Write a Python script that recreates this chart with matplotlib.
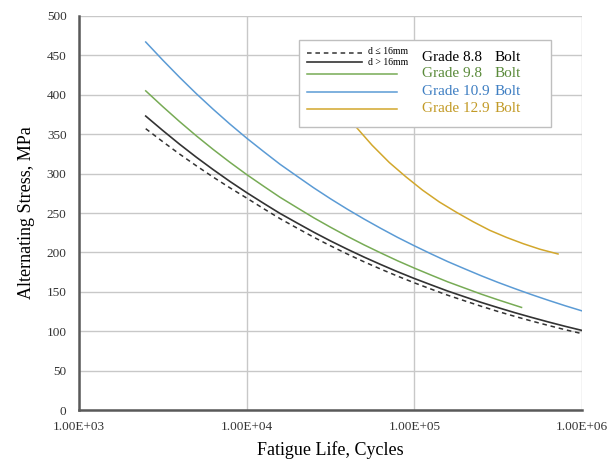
import matplotlib.pyplot as plt
from matplotlib.patches import Rectangle
from matplotlib.ticker import FixedLocator, FuncFormatter, NullLocator

plt.rcParams['font.family'] = ['Liberation Serif', 'DejaVu Serif']

# (cycles, MPa)
N_full = [2500, 3160, 3980, 5010, 6310, 7940, 10000, 12600, 15800, 20000,
          25100, 31600, 39800, 50100, 63100, 79400, 100000, 126000, 158000,
          200000, 251000, 316000, 398000, 501000, 631000, 794000, 1000000]
s88_le16 = [357, 340.5, 324.8, 309.9, 295.6, 282.0, 269.0, 255.6, 242.9, 230.8,
            219.3, 208.4, 198.0, 188.1, 178.8, 169.9, 161.4, 153.4, 145.7,
            138.5, 131.6, 125.0, 118.8, 112.9, 107.3, 101.9, 96.9]
s88_gt16 = [373, 354.7, 337.3, 320.8, 305.1, 290.1, 275.9, 262.4, 249.5, 237.3,
            225.7, 214.6, 204.1, 194.1, 184.6, 175.5, 166.9, 158.8, 151.0,
            143.6, 136.5, 129.9, 123.5, 117.5, 111.7, 106.2, 101.0]
s109 = [467, 444.0, 422.2, 401.4, 381.7, 362.9, 345.0, 328.1, 311.9, 296.6,
        282.0, 268.1, 254.9, 242.4, 230.5, 219.1, 208.4, 198.1, 188.4,
        179.1, 170.3, 161.9, 154.0, 146.4, 139.2, 132.3, 125.8]

N_98 = [2500, 3160, 3980, 5010, 6310, 7940, 10000, 12600, 15800, 20000,
        25100, 31600, 39800, 50100, 63100, 79400, 100000, 126000, 158000,
        200000, 251000, 316000, 398000, 436000]
s98 = [405, 385.0, 366.0, 347.9, 330.7, 314.4, 298.8, 284.1, 270.0, 256.7,
       244.0, 232.0, 220.5, 209.6, 199.3, 189.4, 180.1, 171.2, 162.7,
       154.7, 147.0, 139.8, 132.9, 130.2]

N_129 = [30000, 35500, 45000, 56000, 71000, 89000, 112000, 141000, 178000,
         224000, 282000, 355000, 447000, 562000, 720000]
s129 = [408, 387, 359, 336, 314, 296, 279, 264, 251, 239, 228, 219, 211, 204, 198]

y_ticks = list(range(0, 501, 50))
x_ticks = [1e3, 1e4, 1e5, 1e6]

green = '#77AB55'
blue = '#5B9BD5'
gold = '#D2A72C'

fig = plt.figure(figsize=(6.11, 4.61), dpi=100)
ax = fig.add_axes([0.1293, 0.1106, 0.8232, 0.8547])

ax.plot(N_full, s88_le16, color='#333333', lw=1.1, ls=(0, (3, 2.5)), zorder=3)
ax.plot(N_full, s88_gt16, color='#333333', lw=1.2, zorder=3)
ax.plot(N_98, s98, color=green, lw=1.1, zorder=3)
ax.plot(N_full, s109, color=blue, lw=1.1, zorder=3)
ax.plot(N_129, s129, color=gold, lw=1.1, zorder=3)

ax.set_xscale('log')
ax.set_xlim(1e3, 1e6)
ax.set_ylim(0, 500)
ax.xaxis.set_major_locator(FixedLocator(x_ticks))
ax.xaxis.set_minor_locator(NullLocator())
ax.xaxis.set_major_formatter(FuncFormatter(lambda v, p: '%.2E' % v))
ax.set_yticks(y_ticks)
ax.tick_params(length=0, labelsize=9.5, colors='#333333')
ax.tick_params(axis='y', pad=9)
ax.tick_params(axis='x', pad=8)

ax.grid(True, color='#C8C8C8', lw=1.0, zorder=1)
ax.set_axisbelow(True)
for s in ['top', 'right']:
    ax.spines[s].set_visible(False)
for s in ['left', 'bottom']:
    ax.spines[s].set_color('#595959')
    ax.spines[s].set_linewidth(1.8)

ax.set_xlabel('Fatigue Life, Cycles', fontsize=13, labelpad=6)
ax.set_ylabel('Alternating Stress, MPa', fontsize=13, labelpad=8)

# Legend box drawn by hand to match the original layout
tr = ax.transAxes
ax.add_patch(Rectangle((0.4374, 0.7183), 0.501, 0.2208, transform=tr,
                       facecolor='white', edgecolor='#BFBFBF', lw=1.0, zorder=5))
ax.plot([0.4533, 0.5626], [0.9069, 0.9069], transform=tr, color='#333333',
        lw=1.1, ls=(0, (3, 2.5)), zorder=6)
ax.plot([0.4533, 0.5626], [0.8827, 0.8827], transform=tr, color='#333333',
        lw=1.2, zorder=6)
ax.text(0.5746, 0.9090, 'd ≤ 16mm', transform=tr, fontsize=7, va='center', zorder=6)
ax.text(0.5746, 0.8810, 'd > 16mm', transform=tr, fontsize=7, va='center', zorder=6)

entries = [
    ('Grade 8.8', 0.8950, None, 'black'),
    ('Grade 9.8', 0.8528, green, '#5A8A3A'),
    ('Grade 10.9', 0.8079, blue, '#3E7EC2'),
    ('Grade 12.9', 0.7640, gold, '#C29A26'),
]
for label, yy, lc, tc in entries:
    if lc is not None:
        ax.plot([0.4533, 0.6322], [yy, yy], transform=tr, color=lc, lw=1.1, zorder=6)
    ax.text(0.681, yy, label, transform=tr, fontsize=11, color=tc, va='center', zorder=6)
    ax.text(0.826, yy, 'Bolt', transform=tr, fontsize=11, color=tc, va='center', zorder=6)

fig.savefig('out.png', dpi=100)
